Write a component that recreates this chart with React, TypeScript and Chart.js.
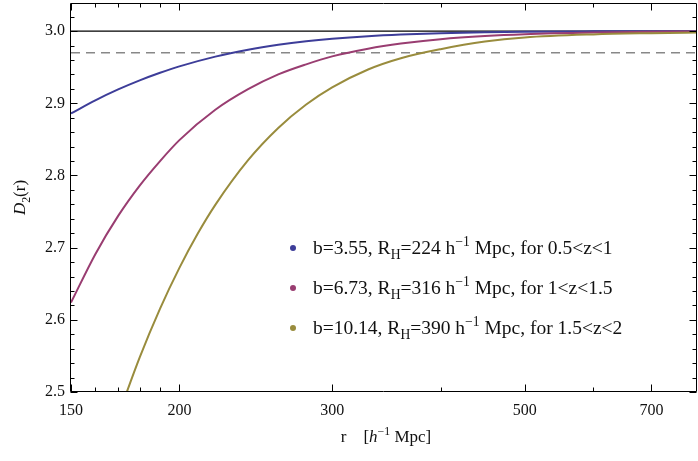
import React, { useEffect, useRef } from "react";
import { Chart, registerables } from "chart.js";

Chart.register(...registerables);

// ---- data ----
const rBlue = [150, 160, 170, 180, 190, 200, 220, 240, 260, 280, 300, 330, 360, 400, 450, 500, 600, 700, 800];
const blueD2 = [2.886, 2.9041, 2.9192, 2.9318, 2.9423, 2.9512, 2.9647, 2.9742, 2.981, 2.9859, 2.9894, 2.993, 2.9953, 2.9972, 2.9985, 2.9992, 2.9997, 2.9999, 3.0];
const rPurple = [150, 160, 170, 180, 190, 200, 220, 240, 260, 280, 300, 330, 360, 400, 450, 500, 600, 700, 800];
const purpleD2 = [2.624, 2.691, 2.744, 2.786, 2.82, 2.849, 2.891, 2.9195, 2.94, 2.954, 2.965, 2.9757, 2.9828, 2.9889, 2.9933, 2.9958, 2.9981, 2.9991, 2.9995];
const rGold = [170, 180, 190, 200, 210, 220, 240, 260, 280, 300, 330, 360, 400, 450, 500, 600, 700, 800];
const goldD2 = [2.467, 2.548, 2.6156, 2.672, 2.7195, 2.7593, 2.8212, 2.8658, 2.8983, 2.9221, 2.9469, 2.9625, 2.975, 2.9855, 2.9912, 2.9955, 2.9972, 2.9982];

const referenceLevel = 3.0;
const homogeneityLevel = 2.97;
const xRange = [150, 790];
const yRange = [2.5, 3.039];

const biasValues = ["3.55", "6.73", "10.14"];
const homogeneityScales = ["224", "316", "390"];
const redshiftRanges = ["0.5<z<1", "1<z<1.5", "1.5<z<2"];
const seriesColors = ["#3d3d99", "#993d71", "#998c3d"];

const xTickValues = [150, 200, 300, 500, 700];
const xMinorTicks = [160, 170, 180, 190, 400, 600];
const yTickValues = [2.5, 2.6, 2.7, 2.8, 2.9, 3.0];
const yMinorTicks = [2.52, 2.54, 2.56, 2.58, 2.62, 2.64, 2.66, 2.68, 2.72, 2.74, 2.76, 2.78, 2.82, 2.84, 2.86, 2.88, 2.92, 2.94, 2.96, 2.98, 3.02];

const SERIF = '"Liberation Serif", "Times New Roman", serif';

type Seg = { t: string; sub?: boolean; sup?: boolean; italic?: boolean };

function segFont(s: Seg, base: number) {
  const size = s.sub || s.sup ? base * 0.7 : base;
  return `${s.italic ? "italic " : ""}${size}px ${SERIF}`;
}
function richWidth(ctx: CanvasRenderingContext2D, segs: Seg[], base: number) {
  let w = 0;
  for (const s of segs) {
    ctx.font = segFont(s, base);
    w += ctx.measureText(s.t).width;
  }
  return w;
}
function drawRich(ctx: CanvasRenderingContext2D, x: number, y: number, segs: Seg[], base: number) {
  ctx.textBaseline = "alphabetic";
  ctx.textAlign = "left";
  for (const s of segs) {
    ctx.font = segFont(s, base);
    const dy = s.sub ? base * 0.28 : s.sup ? -base * 0.4 : 0;
    ctx.fillText(s.t, x, y + dy);
    x += ctx.measureText(s.t).width;
  }
}

const decorPlugin = {
  id: "decor",
  afterDraw(chart: any) {
    const ctx: CanvasRenderingContext2D = chart.ctx;
    const { left, right, top, bottom } = chart.chartArea;
    const xs = chart.scales.x;
    const ys = chart.scales.y;
    ctx.save();
    ctx.strokeStyle = "#000";
    ctx.lineWidth = 1;
    const L = left - 0.5, R = right - 0.5, T = top + 0.5, B = bottom - 0.5;
    ctx.beginPath();
    ctx.rect(L, T, R - L, B - T);
    ctx.stroke();
    const major = 7, minor = 4;
    ctx.beginPath();
    const xt = (v: number, len: number) => {
      const px = Math.round(xs.getPixelForValue(v)) + 0.5;
      ctx.moveTo(px, B); ctx.lineTo(px, B - len);
      ctx.moveTo(px, T); ctx.lineTo(px, T + len);
    };
    const yt = (v: number, len: number) => {
      const py = Math.round(ys.getPixelForValue(v)) + 0.5;
      ctx.moveTo(L, py); ctx.lineTo(L + len, py);
      ctx.moveTo(R, py); ctx.lineTo(R - len, py);
    };
    xTickValues.forEach((v) => xt(v, major));
    xMinorTicks.forEach((v) => xt(v, minor));
    yTickValues.forEach((v) => yt(v, major));
    yMinorTicks.forEach((v) => yt(v, minor));
    ctx.stroke();

    // legend
    const base = 19.5;
    const legendX = 293;
    const legendY0 = 248;
    const gap = 40;
    for (let i = 0; i < biasValues.length; i++) {
      const cy = legendY0 + i * gap;
      ctx.fillStyle = seriesColors[i];
      ctx.beginPath();
      ctx.arc(legendX, cy, 3, 0, Math.PI * 2);
      ctx.fill();
      ctx.fillStyle = "#111";
      const segs: Seg[] = [
        { t: `b=${biasValues[i]}, R` },
        { t: "H", sub: true },
        { t: `=${homogeneityScales[i]} h` },
        { t: "\u22121", sup: true },
        { t: ` Mpc, for ${redshiftRanges[i]}` },
      ];
      drawRich(ctx, legendX + 20, cy + 6, segs, base);
    }

    // x title
    const tb = 17;
    const xSegs: Seg[] = [{ t: "r    [" }, { t: "h", italic: true }, { t: "\u22121", sup: true }, { t: " Mpc]" }];
    const xw = richWidth(ctx, xSegs, tb);
    ctx.fillStyle = "#111";
    drawRich(ctx, (left + right) / 2 + 2 - xw / 2, 442, xSegs, tb);

    // y title
    const ySegs: Seg[] = [{ t: "D", italic: true }, { t: "2", sub: true }, { t: "(r)" }];
    const yw = richWidth(ctx, ySegs, tb);
    ctx.translate(25, (top + bottom) / 2);
    ctx.rotate(-Math.PI / 2);
    drawRich(ctx, -yw / 2, 0, ySegs, tb);
    ctx.restore();
  },
};

export default function App() {
  const canvasRef = useRef<HTMLCanvasElement | null>(null);
  useEffect(() => {
    document.body.style.margin = "0";
    const toPts = (xsArr: number[], ysArr: number[]) => xsArr.map((x, i) => ({ x, y: ysArr[i] }));
    const curve = (data: any[], color: string) => ({
      data,
      borderColor: color,
      borderWidth: 2,
      pointRadius: 0,
      cubicInterpolationMode: "monotone" as const,
      fill: false,
    });
    const chart = new Chart(canvasRef.current!, {
      type: "line",
      data: {
        datasets: [
          curve(toPts(rGold, goldD2), seriesColors[2]),
          curve(toPts(rPurple, purpleD2), seriesColors[1]),
          curve(toPts(rBlue, blueD2), seriesColors[0]),
          {
            data: toPts(xRange, [homogeneityLevel, homogeneityLevel]),
            borderColor: "#888888",
            borderWidth: 1.6,
            borderDash: [9, 6],
            pointRadius: 0,
            order: 5,
          },
          {
            data: toPts(xRange, [referenceLevel, referenceLevel]),
            borderColor: "#000000",
            borderWidth: 1.3,
            pointRadius: 0,
            order: 5,
          },
        ],
      },
      options: {
        animation: false,
        responsive: true,
        maintainAspectRatio: false,
        layout: { padding: { left: 0, right: 1, top: 3, bottom: 0 } },
        plugins: { legend: { display: false }, tooltip: { enabled: false } },
        scales: {
          x: {
            type: "logarithmic",
            min: xRange[0],
            max: xRange[1],
            afterBuildTicks: (s: any) => {
              s.ticks = xTickValues.map((v) => ({ value: v }));
            },
            afterFit: (s: any) => {
              s.height = 69;
              s.paddingLeft = 0;
              s.paddingRight = 0;
            },
            ticks: {
              callback: (v: any) => String(v),
              font: { family: SERIF, size: 16 },
              color: "#111",
              padding: 9,
              maxRotation: 0,
              autoSkip: false,
            },
            grid: { display: false, drawTicks: false },
            border: { display: false },
          },
          y: {
            type: "linear",
            min: yRange[0],
            max: yRange[1],
            afterBuildTicks: (s: any) => {
              s.ticks = yTickValues.map((v) => ({ value: v }));
            },
            afterFit: (s: any) => {
              s.width = 71;
              s.paddingTop = 0;
              s.paddingBottom = 0;
            },
            ticks: {
              callback: (v: any) => Number(v).toFixed(1),
              font: { family: SERIF, size: 16 },
              color: "#111",
              padding: 6,
            },
            grid: { display: false, drawTicks: false },
            border: { display: false },
          },
        },
      },
      plugins: [decorPlugin],
    });
    return () => chart.destroy();
  }, []);
  return (
    <div style={{ position: "relative", width: 698, height: 461, background: "#fff" }}>
      <canvas ref={canvasRef} />
    </div>
  );
}
